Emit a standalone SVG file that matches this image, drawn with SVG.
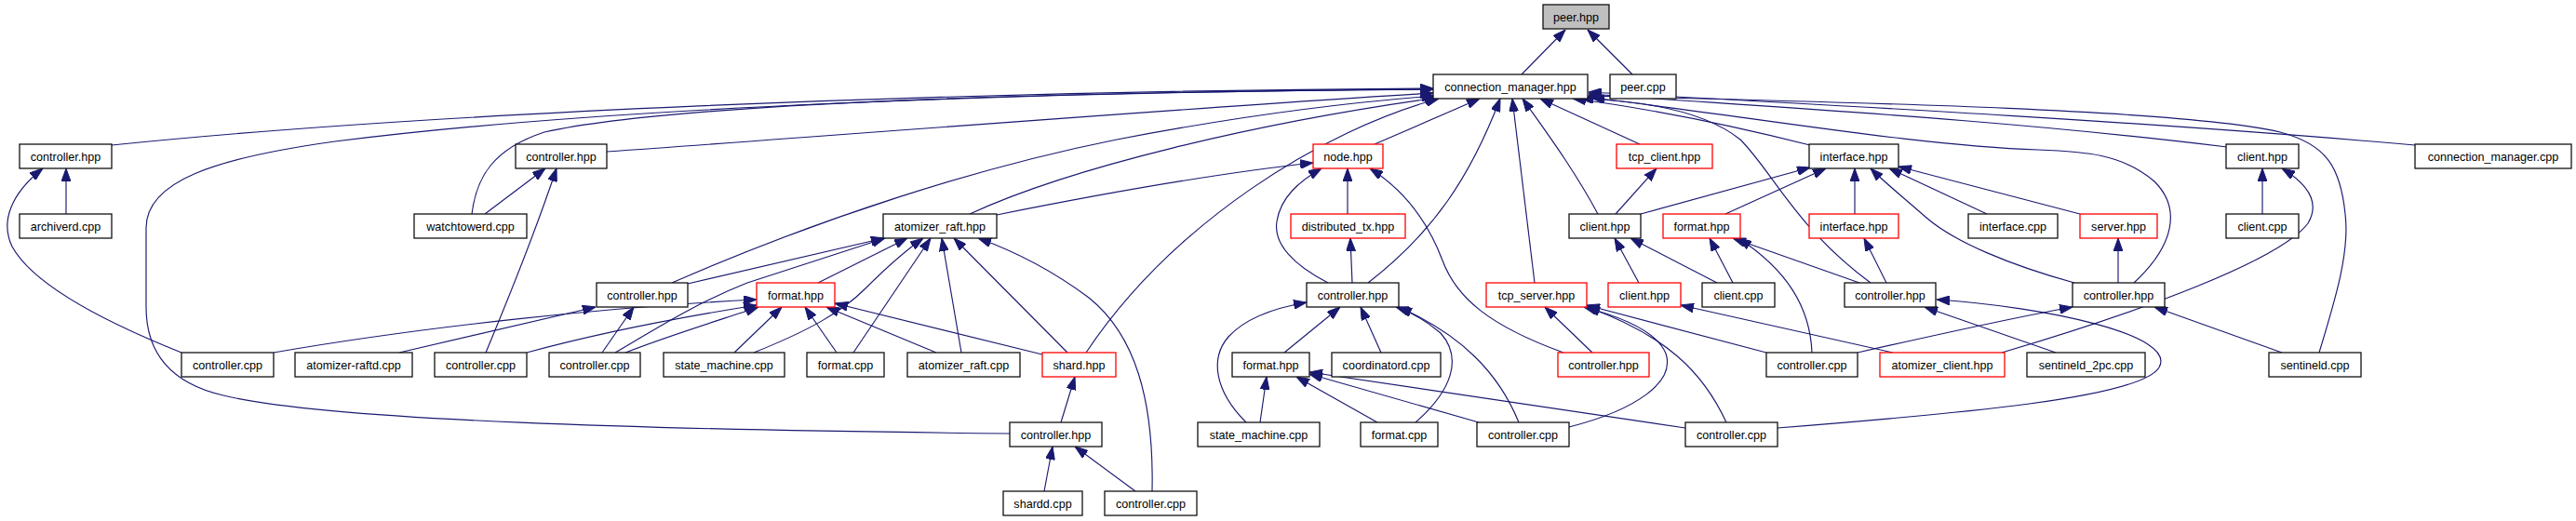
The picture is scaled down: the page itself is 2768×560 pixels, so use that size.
<svg xmlns="http://www.w3.org/2000/svg" width="2768" height="560" viewBox="0 0 2768 560">
<defs>
<marker id="ah" viewBox="0 0 14 10" refX="14" refY="5" markerWidth="14" markerHeight="10" markerUnits="userSpaceOnUse" orient="auto"><path d="M0,0 L14,5 L0,10 z" fill="#191970" stroke="#191970" stroke-width="1"/></marker>
</defs>
<style>
.n rect{fill:#fff;stroke:#111;stroke-width:1.3}
.r rect{stroke:#ff0000}
.g rect{fill:#bfbfbf}
text{font-family:"Liberation Sans",Arial,Helvetica,sans-serif;font-size:12.6px;text-anchor:middle;fill:#000}
.e path{fill:none;stroke:#191970;stroke-width:1.15;marker-end:url(#ah)}
</style>
<rect width="2768" height="560" fill="#fff"/>
<g id="connectors" class="e">
<path d="M1635,80 L1682,32"/>
<path d="M1754,80 L1706,32"/>
<path d="M120,156 C450,122 1000,98 1540,95"/>
<path d="M1085,466 C700,462 350,452 240,425 C175,410 157,370 157,330 L157,245 C157,195 230,170 360,152 C650,115 1100,99 1540,96"/>
<path d="M507,230 C512,190 530,160 585,142 C720,112 1100,99 1540,96"/>
<path d="M652,163 C950,142 1300,114 1540,100"/>
<path d="M722,304 C880,235 1050,180 1200,150 C1330,125 1450,110 1542,103"/>
<path d="M1042,230 C1150,180 1350,132 1545,105"/>
<path d="M1167,379 C1260,240 1420,140 1546,106"/>
<path d="M1477,155 L1590,106"/>
<path d="M1470,304 C1540,250 1580,190 1612,106"/>
<path d="M1649,304 L1625,106"/>
<path d="M1717,230 C1690,180 1660,140 1636,106"/>
<path d="M1762,155 L1655,106"/>
<path d="M1945,156 C1850,132 1760,115 1690,106"/>
<path d="M2010,304 C1930,245 1905,185 1870,150 C1830,118 1760,108 1698,106"/>
<path d="M2293,304 C2335,265 2345,225 2315,195 C2280,165 2240,163 2190,161 C2060,157 1880,125 1710,105"/>
<path d="M2393,158 C2150,128 1900,115 1707,101"/>
<path d="M2595,156 C2300,130 1950,112 1707,99"/>
<path d="M2492,379 C2510,320 2525,270 2520,230 C2515,180 2500,155 2450,142 C2350,118 2000,110 1707,103"/>
<path d="M71,230 L71,181"/>
<path d="M195,379 C110,345 35,305 13,265 C0,238 12,208 46,181"/>
<path d="M521,230 L586,181"/>
<path d="M522,379 C555,300 580,235 598,181"/>
<path d="M429,379 L640,330"/>
<path d="M647,379 L681,330"/>
<path d="M294,379 C450,352 650,330 813,322"/>
<path d="M566,379 C650,356 750,338 813,328"/>
<path d="M672,379 C720,360 780,342 815,330"/>
<path d="M661,379 C710,350 750,325 803,304 L951,256"/>
<path d="M739,305 L950,256"/>
<path d="M879,304 L975,256"/>
<path d="M810,379 C870,355 905,335 930,310 C955,285 975,268 992,256"/>
<path d="M917,379 L1000,256"/>
<path d="M1033,379 L1012,256"/>
<path d="M1147,379 L1025,256"/>
<path d="M1238,528 C1240,430 1220,360 1170,320 C1130,290 1090,270 1051,256"/>
<path d="M789,379 L840,330"/>
<path d="M899,379 L865,330"/>
<path d="M1006,379 L888,330"/>
<path d="M1120,381 L897,326"/>
<path d="M1140,454 L1155,405"/>
<path d="M1122,528 L1131,480"/>
<path d="M1220,528 L1155,480"/>
<path d="M1071,231 C1200,205 1320,185 1411,175"/>
<path d="M1448,230 L1448,181"/>
<path d="M1427,304 C1390,285 1368,262 1372,238 C1376,212 1396,195 1420,181"/>
<path d="M1680,379 C1600,350 1565,320 1550,280 C1535,240 1510,205 1472,181"/>
<path d="M1453,304 L1451,256"/>
<path d="M1380,379 L1440,330"/>
<path d="M1484,379 L1462,330"/>
<path d="M1339,454 C1305,420 1300,385 1320,362 C1340,340 1375,330 1404,325"/>
<path d="M1521,454 C1560,420 1572,385 1548,358 C1533,345 1518,336 1500,330"/>
<path d="M1632,454 C1610,400 1570,360 1503,330"/>
<path d="M1354,454 L1361,405"/>
<path d="M1480,454 L1393,405"/>
<path d="M1589,454 L1407,402"/>
<path d="M1811,460 L1407,400"/>
<path d="M1711,379 L1660,330"/>
<path d="M1686,459 C1760,440 1800,410 1790,380 C1780,355 1740,340 1702,330"/>
<path d="M1855,454 C1830,400 1790,360 1705,330"/>
<path d="M1898,379 L1705,328"/>
<path d="M2034,379 L1806,328"/>
<path d="M1761,304 L1735,256"/>
<path d="M1845,304 L1752,256"/>
<path d="M1736,230 L1780,181"/>
<path d="M1763,230 L1945,180"/>
<path d="M1854,230 L1962,181"/>
<path d="M1993,230 L1993,181"/>
<path d="M2229,304 C2160,285 2100,260 2070,234 C2045,212 2025,196 2010,181"/>
<path d="M2135,230 L2030,181"/>
<path d="M2235,230 L2040,179"/>
<path d="M1862,304 L1837,256"/>
<path d="M1998,304 L1862,256"/>
<path d="M1947,379 C1945,330 1920,290 1868,256"/>
<path d="M2027,304 L2003,256"/>
<path d="M2209,379 L2068,330"/>
<path d="M1910,460 C2100,445 2300,428 2320,395 C2340,360 2200,330 2081,322"/>
<path d="M1996,379 C2080,360 2160,342 2227,330"/>
<path d="M2452,379 L2315,330"/>
<path d="M2276,304 L2276,256"/>
<path d="M2431,230 L2431,181"/>
<path d="M2151,379 C2300,335 2450,280 2480,240 C2495,215 2475,195 2452,181"/>
</g>
<g id="peer_hpp" class="n g"><rect x="1658" y="5" width="71" height="26"/><text x="1693.5" y="22.5">peer.hpp</text></g>
<g id="cm_hpp" class="n"><rect x="1540" y="80" width="166" height="26"/><text x="1623" y="97.5">connection_manager.hpp</text></g>
<g id="peer_cpp" class="n"><rect x="1730" y="80" width="71" height="26"/><text x="1765.5" y="97.5">peer.cpp</text></g>
<g id="ctrl_a1" class="n"><rect x="21" y="155" width="99" height="26"/><text x="70.5" y="172.5">controller.hpp</text></g>
<g id="ctrl_a2" class="n"><rect x="554" y="155" width="98" height="26"/><text x="603" y="172.5">controller.hpp</text></g>
<g id="node_hpp" class="n r"><rect x="1411" y="155" width="75" height="26"/><text x="1448.5" y="172.5">node.hpp</text></g>
<g id="tcp_client_hpp" class="n r"><rect x="1737" y="155" width="103" height="26"/><text x="1788.5" y="172.5">tcp_client.hpp</text></g>
<g id="iface_hpp" class="n"><rect x="1944" y="155" width="96" height="26"/><text x="1992" y="172.5">interface.hpp</text></g>
<g id="client_hpp2" class="n"><rect x="2392" y="155" width="78" height="26"/><text x="2431" y="172.5">client.hpp</text></g>
<g id="cm_cpp" class="n"><rect x="2595" y="155" width="168" height="26"/><text x="2679" y="172.5">connection_manager.cpp</text></g>
<g id="archiverd_cpp" class="n"><rect x="21" y="230" width="99" height="26"/><text x="70.5" y="247.5">archiverd.cpp</text></g>
<g id="watchtowerd_cpp" class="n"><rect x="445" y="230" width="121" height="26"/><text x="505.5" y="247.5">watchtowerd.cpp</text></g>
<g id="atomizer_raft_hpp" class="n"><rect x="949" y="230" width="122" height="26"/><text x="1010" y="247.5">atomizer_raft.hpp</text></g>
<g id="dist_tx_hpp" class="n r"><rect x="1387" y="230" width="123" height="26"/><text x="1448.5" y="247.5">distributed_tx.hpp</text></g>
<g id="client_hpp3" class="n"><rect x="1686" y="230" width="77" height="26"/><text x="1724.5" y="247.5">client.hpp</text></g>
<g id="format_hpp3" class="n r"><rect x="1787" y="230" width="83" height="26"/><text x="1828.5" y="247.5">format.hpp</text></g>
<g id="iface_hpp3" class="n r"><rect x="1944" y="230" width="96" height="26"/><text x="1992" y="247.5">interface.hpp</text></g>
<g id="iface_cpp" class="n"><rect x="2115" y="230" width="96" height="26"/><text x="2163" y="247.5">interface.cpp</text></g>
<g id="server_hpp" class="n r"><rect x="2235" y="230" width="83" height="26"/><text x="2276.5" y="247.5">server.hpp</text></g>
<g id="client_cpp3" class="n"><rect x="2392" y="230" width="78" height="26"/><text x="2431" y="247.5">client.cpp</text></g>
<g id="ctrl4a" class="n"><rect x="641" y="304" width="98" height="26"/><text x="690" y="321.5">controller.hpp</text></g>
<g id="format_hpp4" class="n r"><rect x="813" y="304" width="84" height="26"/><text x="855" y="321.5">format.hpp</text></g>
<g id="ctrl4b" class="n"><rect x="1404" y="304" width="99" height="26"/><text x="1453.5" y="321.5">controller.hpp</text></g>
<g id="tcp_server_hpp" class="n r"><rect x="1597" y="304" width="108" height="26"/><text x="1651" y="321.5">tcp_server.hpp</text></g>
<g id="client_hpp4" class="n r"><rect x="1728" y="304" width="78" height="26"/><text x="1767" y="321.5">client.hpp</text></g>
<g id="client_cpp4" class="n"><rect x="1829" y="304" width="78" height="26"/><text x="1868" y="321.5">client.cpp</text></g>
<g id="ctrl4c" class="n"><rect x="1982" y="304" width="98" height="26"/><text x="2031" y="321.5">controller.hpp</text></g>
<g id="ctrl4d" class="n"><rect x="2227" y="304" width="99" height="26"/><text x="2276.5" y="321.5">controller.hpp</text></g>
<g id="cpp5a" class="n"><rect x="195" y="379" width="99" height="26"/><text x="244.5" y="396.5">controller.cpp</text></g>
<g id="raftd_cpp" class="n"><rect x="317" y="379" width="126" height="26"/><text x="380" y="396.5">atomizer-raftd.cpp</text></g>
<g id="cpp5b" class="n"><rect x="467" y="379" width="99" height="26"/><text x="516.5" y="396.5">controller.cpp</text></g>
<g id="cpp5c" class="n"><rect x="590" y="379" width="98" height="26"/><text x="639" y="396.5">controller.cpp</text></g>
<g id="sm5" class="n"><rect x="713" y="379" width="130" height="26"/><text x="778" y="396.5">state_machine.cpp</text></g>
<g id="fmt_cpp5" class="n"><rect x="867" y="379" width="83" height="26"/><text x="908.5" y="396.5">format.cpp</text></g>
<g id="raft_cpp" class="n"><rect x="975" y="379" width="121" height="26"/><text x="1035.5" y="396.5">atomizer_raft.cpp</text></g>
<g id="shard_hpp" class="n r"><rect x="1120" y="379" width="79" height="26"/><text x="1159.5" y="396.5">shard.hpp</text></g>
<g id="format_hpp5" class="n"><rect x="1324" y="379" width="83" height="26"/><text x="1365.5" y="396.5">format.hpp</text></g>
<g id="coord_cpp" class="n"><rect x="1431" y="379" width="117" height="26"/><text x="1489.5" y="396.5">coordinatord.cpp</text></g>
<g id="ctrl5red" class="n r"><rect x="1674" y="379" width="98" height="26"/><text x="1723" y="396.5">controller.hpp</text></g>
<g id="cpp5d" class="n"><rect x="1898" y="379" width="98" height="26"/><text x="1947" y="396.5">controller.cpp</text></g>
<g id="atom_client_hpp" class="n r"><rect x="2020" y="379" width="134" height="26"/><text x="2087" y="396.5">atomizer_client.hpp</text></g>
<g id="s2pc_cpp" class="n"><rect x="2178" y="379" width="127" height="26"/><text x="2241.5" y="396.5">sentineld_2pc.cpp</text></g>
<g id="sentineld_cpp" class="n"><rect x="2438" y="379" width="99" height="26"/><text x="2487.5" y="396.5">sentineld.cpp</text></g>
<g id="ctrl6" class="n"><rect x="1085" y="454" width="99" height="26"/><text x="1134.5" y="471.5">controller.hpp</text></g>
<g id="sm6" class="n"><rect x="1287" y="454" width="131" height="26"/><text x="1352.5" y="471.5">state_machine.cpp</text></g>
<g id="fmt_cpp6" class="n"><rect x="1462" y="454" width="83" height="26"/><text x="1503.5" y="471.5">format.cpp</text></g>
<g id="cpp6a" class="n"><rect x="1587" y="454" width="99" height="26"/><text x="1636.5" y="471.5">controller.cpp</text></g>
<g id="cpp6b" class="n"><rect x="1811" y="454" width="99" height="26"/><text x="1860.5" y="471.5">controller.cpp</text></g>
<g id="shardd_cpp" class="n"><rect x="1078" y="528" width="85" height="26"/><text x="1120.5" y="545.5">shardd.cpp</text></g>
<g id="cpp7" class="n"><rect x="1187" y="528" width="99" height="26"/><text x="1236.5" y="545.5">controller.cpp</text></g>
</svg>
